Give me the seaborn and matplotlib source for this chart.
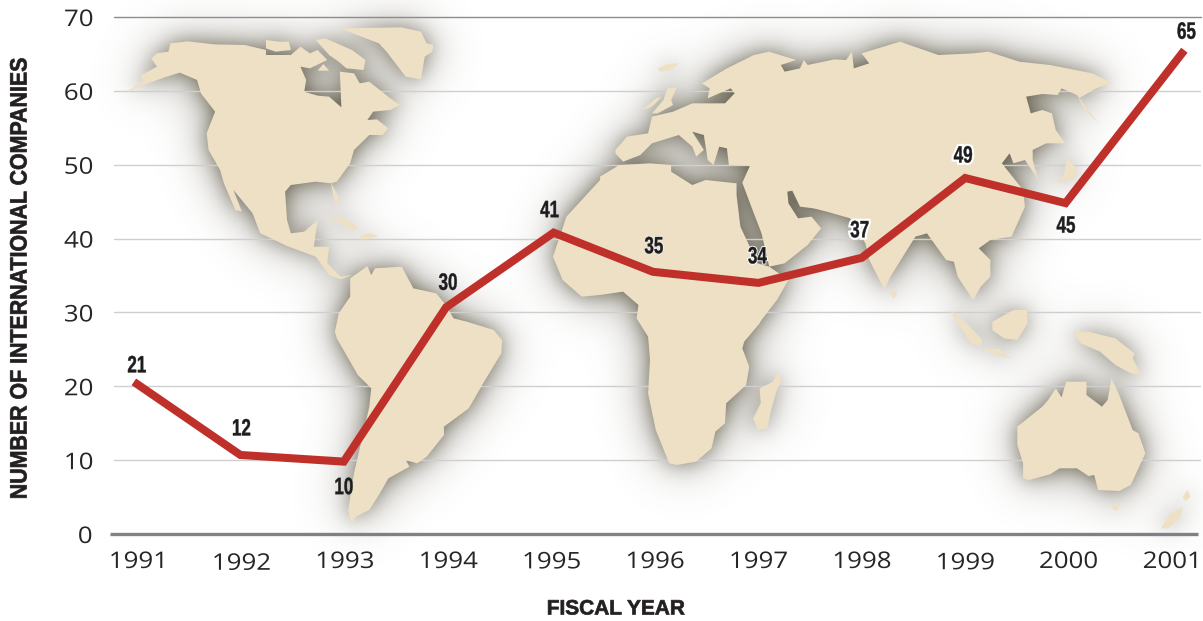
import numpy as np
import pandas as pd
import matplotlib
matplotlib.use("Agg")
import matplotlib.pyplot as plt
from matplotlib.path import Path
from matplotlib.patches import PathPatch
from matplotlib.patheffects import AbstractPathEffect
from matplotlib.transforms import Affine2D
import seaborn as sns

# ---- data ----
years = [1991, 1992, 1993, 1994, 1995, 1996, 1997, 1998, 1999, 2000, 2001]
line_x = [1990.96, 1991.99, 1992.99, 1993.98, 1995.02, 1995.98, 1997.0, 1998.0, 1999.0, 1999.97, 2001.12]
line_values = [20.6, 10.7, 9.8, 30.7, 40.8, 35.5, 34.0, 37.4, 48.2, 44.8, 65.5]
value_labels = ["21", "12", "10", "30", "41", "35", "34", "37", "49", "45", "65"]
y_ticks = [0, 10, 20, 30, 40, 50, 60, 70]

# ---- style ----
W, H = 1203, 621
AX_L, AX_R, AX_T, AX_B = 114, 1201, 17, 534
PX_X0, PX_PER_YEAR = 138, 103.4
LAND = "#ede0c5"
RED = "#c0302a"
SANS = ["Open Sans", "DejaVu Sans"]
HEAVY = ["Liberation Sans", "DejaVu Sans"]
label_offsets = [(3, 16), (1, 26), (0, -26), (2, 24), (-4, 22), (1, 25), (-1, 26), (-2, 27), (-2, 22), (0.5, -23), (2, 18)]
label_halos = [0, 0, 0, 0, 0, 1.0, 1.6, 3.4, 3.4, 0, 0]
tick_pads = [11.5, 12.8, 11.5, 11.5, 11.8, 11.5, 11.5, 11.5, 12.4, 11.5, 11.5]


class Reshape(AbstractPathEffect):
    """Stretch glyphs sideways about their own centre, with optional extra weight and halo."""

    def __init__(self, sx=1.0, stroke=0.0, halo=0.0, color="#1d1d1f"):
        super().__init__()
        self.sx, self.stroke, self.halo, self.color = sx, stroke, halo, color

    def draw_path(self, renderer, gc, tpath, affine, rgbFace=None):
        ext = tpath.get_extents()
        cx = 0.5 * (ext.x0 + ext.x1)
        tr = Affine2D().translate(-cx, 0).scale(self.sx, 1).translate(cx, 0) + affine
        if self.halo > 0:
            g = renderer.new_gc()
            g.copy_properties(gc)
            g.set_linewidth(self.halo)
            g.set_foreground("white")
            g.set_joinstyle("miter")
            renderer.draw_path(g, tpath, tr, (1, 1, 1, 1))
            g.restore()
        if self.stroke > 0:
            g = renderer.new_gc()
            g.copy_properties(gc)
            g.set_linewidth(self.stroke)
            g.set_foreground(self.color)
            renderer.draw_path(g, tpath, tr, rgbFace)
            g.restore()
        else:
            renderer.draw_path(gc, tpath, tr, rgbFace)


# ---- decorative map silhouette, traced in picture pixels ----
def z(pts, ox=0.0, oy=0.0, sx=2.613, sy=3.0):
    a = np.array(pts, float).reshape(-1, 2)
    return np.column_stack([ox + a[:, 0] / sx, oy + a[:, 1] / sy])


def z1(*p): return z(p)
def z2(*p): return z(p, 600, 0, 2.6)
def z3(*p): return z(p, 0, 310)
def z4(*p): return z(p, 600, 310, 2.6)


north_america = z1(330,278, 375,240, 365,228, 410,200, 395,175, 410,160, 440,155, 445,130, 490,124, 560,133, 640,135, 695,150,
                   695,165, 760,165, 785,140, 810,160, 830,150, 855,180, 810,205, 785,200, 800,240, 795,275, 830,287, 860,290,
                   892,322, 888,215, 925,220, 940,250, 965,245, 1020,295, 1045,315, 1020,330, 975,335, 960,360, 985,358, 1015,385,
                   1000,405, 965,405, 925,450, 915,490, 880,545, 865,550, 880,580, 890,612, 875,610, 865,550, 825,545, 760,555,
                   745,575, 750,660, 760,700, 795,695, 830,660, 820,740, 860,740, 855,790, 890,830, 920,825, 890,838, 860,825,
                   825,770, 750,738, 680,700, 660,640, 610,570, 632,635, 615,630, 585,550, 575,510, 545,450, 540,400, 562,335,
                   525,280, 515,240, 470,218, 430,232, 375,255)
south_america = np.vstack([
    z1(885,940, 915,890, 915,835, 960,798, 970,825, 980,805, 1050,800, 1080,865, 1140,880, 1165,915),
    z3(1185,25, 1220,35, 1290,60, 1312,90, 1310,130, 1265,215, 1225,295, 1160,350, 1160,375, 1115,440, 1090,460, 1060,450,
       1070,470, 1015,505, 990,555, 965,600, 930,620, 918,645, 910,600, 925,490, 965,290, 970,235, 935,195, 880,85, 875,65)])
africa = np.vstack([
    z2(0,530, 50,495, 130,490, 185,495, 185,515, 240,555, 275,540, 355,550, 355,585, 365,680, 410,790, 440,800, 490,840, 460,900, 420,960),
    z4(415,40, 375,95, 370,115, 388,170, 380,225, 328,280, 325,340, 300,365, 290,415, 250,455, 200,465, 180,460, 145,360, 125,250,
       130,150, 125,80, 95,25),
    z2(100,915, 60,875, 0,885),
    z1(1520,890, 1470,840, 1445,770, 1480,650, 1568,540)])
eurasia = z2(40,460, 60,485, 105,465, 135,430, 205,405, 240,440, 250,470, 270,450, 240,395, 270,405, 280,480, 295,495, 310,440,
             330,445, 335,495, 390,497, 370,548, 395,625, 420,700, 440,800, 480,790, 540,735, 575,685, 550,650, 515,655, 490,610,
             487,575, 500,572, 520,620, 555,625, 590,635, 650,655, 690,730, 700,780, 740,870, 755,830, 820,710, 850,700, 900,780,
             920,785, 930,830, 970,900, 990,860, 1015,830, 1015,780, 985,745, 1015,720, 1070,710, 1105,620, 1100,570, 1045,490,
             1065,460, 1075,490, 1105,480, 1140,540, 1125,480, 1125,450, 1160,430, 1210,430, 1185,390, 1175,340, 1150,330, 1120,340,
             1108,290, 1150,282, 1190,285, 1200,265, 1240,285, 1295,370, 1260,330, 1245,295, 1290,265, 1330,248, 1280,220, 1170,195,
             1090,185, 1010,155, 970,160, 880,165, 830,145, 780,125, 680,160, 700,190, 660,205, 655,155, 640,180, 610,178, 540,195,
             530,180, 520,205, 480,215, 470,195, 510,180, 440,155, 400,165, 330,205, 265,250, 285,265, 280,295, 340,265, 350,280,
             325,310, 240,310, 190,335, 135,350, 125,400, 70,410, 40,450)
land_shapes = [
    north_america, south_america, africa, eurasia,
    z1(825,120, 850,115, 920,150, 955,180, 950,210, 905,205, 885,185, 860,165),
    z1(695,120, 730,125, 755,125, 760,150, 720,155, 695,145),
    z1(830,212, 845,192, 860,212),
    z1(888,85, 1050,82, 1100,95, 1115,130, 1132,135, 1130,155, 1110,170, 1100,238, 1060,230, 1010,155, 990,130),
    z1(855,655, 890,650, 935,680, 920,695, 895,670),
    z1(945,705, 965,700, 990,708, 960,718, 940,718),
    z2(150,205, 175,192, 205,190, 185,210, 155,215),
    z2(110,328, 130,310, 145,295, 160,290, 140,315, 125,325),
    z2(135,340, 165,300, 175,265, 200,262, 185,300, 190,315, 150,340),
    z2(755,875, 765,865, 772,885, 762,897),
    z2(1185,545, 1205,530, 1215,470, 1240,510, 1235,535, 1190,548),
    z4(910,0, 945,30, 995,90, 990,110, 965,100, 930,40),
    z4(1020,35, 1075,0, 1110,0, 1112,40, 1085,90, 1050,85, 1020,60),
    z4(995,120, 1035,115, 1068,145, 1030,135),
    z4(1230,65, 1270,65, 1340,85, 1390,130, 1385,145, 1408,195, 1380,190, 1340,165, 1300,125, 1250,100),
    z4(415,235, 450,215, 462,185, 472,212, 460,240, 445,300, 435,355, 410,360, 398,325, 418,280),
    z4(1085,350, 1150,290, 1165,270, 1185,235, 1200,262, 1212,215, 1265,215, 1265,255, 1305,290, 1320,270, 1330,205, 1350,255,
       1385,360, 1400,370, 1418,430, 1380,525, 1350,543, 1295,540, 1285,495, 1270,498, 1240,475, 1195,475, 1170,493, 1115,510,
       1100,505, 1100,460, 1085,405),
    z4(1330,585, 1350,582, 1345,602, 1335,600),
    z4(1458,655, 1480,615, 1515,590, 1510,620, 1478,655),
    z4(1515,560, 1528,540, 1535,560, 1522,575),
]

# ---- figure ----
sns.set_theme(style="white")
plt.rcParams["font.family"] = SANS
fig = plt.figure(figsize=(W / 100, H / 100), dpi=100, facecolor="white")

bg = fig.add_axes([0, 0, 1, 1], zorder=0)
bg.set_xlim(0, W)
bg.set_ylim(H, 0)
bg.axis("off")

# soft drop shadow behind the land (computed on a padded canvas)
PAD = 100
gx, gy = np.meshgrid(np.arange(-PAD, W + PAD) + 0.5, np.arange(-PAD, H + PAD) + 0.5)
grid_pts = np.column_stack([gx.ravel(), gy.ravel()])
mask = np.zeros(gx.shape)
for shape in land_shapes:
    mask = np.maximum(mask, Path(shape).contains_points(grid_pts).reshape(gx.shape).astype(float))
fy = np.fft.fftfreq(gx.shape[0])[:, None]
fx = np.fft.rfftfreq(gx.shape[1])[None, :]
spec = np.fft.rfft2(mask)


def gaussian(sigma):
    return np.fft.irfft2(spec * np.exp(-2 * (np.pi * sigma) ** 2 * (fx ** 2 + fy ** 2)), s=gx.shape)


blur = 0.62 * gaussian(10.0) + 0.7 * gaussian(24.0)
rgba = np.zeros((H, W, 4))
rgba[..., :3] = np.array([118, 113, 98]) / 255
rgba[..., 3] = np.clip(blur[PAD:-PAD, PAD:-PAD], 0, 1)
bg.imshow(rgba, extent=(0, W, H, 0), aspect="auto", interpolation="bilinear", zorder=1)

ax = fig.add_axes([AX_L / W, (H - AX_B) / H, (AX_R - AX_L) / W, (AX_B - AX_T) / H], zorder=1)
ax.patch.set_visible(False)
ax.set_xlim(1991 + (AX_L - PX_X0) / PX_PER_YEAR, 1991 + (AX_R - PX_X0) / PX_PER_YEAR)
ax.set_ylim(0, 70)

for shape in land_shapes:
    ax.add_patch(PathPatch(Path(shape), facecolor=LAND, edgecolor="none", transform=bg.transData,
                           zorder=1.5, clip_on=False))

df = pd.DataFrame({"year": line_x, "companies": line_values})
sns.lineplot(data=df, x="year", y="companies", ax=ax, color=RED, linewidth=5.8, zorder=3,
             solid_joinstyle="miter", solid_capstyle="butt", legend=False)

for sp in ax.spines.values():
    sp.set_visible(False)
ax.set_yticks(y_ticks)
ax.set_xticks(years)
ax.set_xticklabels([str(y) for y in years])
ax.set_axisbelow(True)
ax.grid(False)
for v in y_ticks[1:-1]:
    ax.axhline(v, color="#cfcfcf", lw=1.0, zorder=0.5)
ax.axhline(70, color="#8c8c8c", lw=1.0, zorder=0.5, clip_on=False)
ax.plot([1991 + (110 - PX_X0) / PX_PER_YEAR, 1991 + (1198 - PX_X0) / PX_PER_YEAR], [0, 0], color="#808085", lw=2.4,
        clip_on=False, zorder=2, solid_capstyle="butt")

ax.tick_params(axis="both", length=0, labelsize=16.5, labelcolor="#262626")
ax.tick_params(axis="y", pad=16)
for tick, pad in zip(ax.xaxis.get_major_ticks(), tick_pads):
    tick.set_pad(pad)
for lab in ax.get_xticklabels() + ax.get_yticklabels():
    lab.set_path_effects([Reshape(sx=1.13)])

ax.set_xlabel("")
ax.set_ylabel("")
fig.text(616 / W, 1 - 609 / H, "FISCAL YEAR", family=HEAVY, fontweight="bold", fontsize=15, color="#231f20",
         ha="center", va="center", path_effects=[Reshape(sx=1.0, stroke=0.5, color="#231f20")])
fig.text(20 / W, 1 - 278 / H, "NUMBER OF INTERNATIONAL COMPANIES", family=HEAVY, fontweight="bold", fontsize=17,
         color="#231f20", ha="center", va="center", rotation=90,
         path_effects=[Reshape(sx=0.905, stroke=0.5, color="#231f20")])

for xv, v, txt, off, halo in zip(line_x, line_values, value_labels, label_offsets, label_halos):
    ax.annotate(txt, (xv, v), xytext=(off[0] * 0.72, off[1] * 0.72), textcoords="offset points", ha="center",
                va="center", family=HEAVY, fontweight="bold", fontsize=17, color="#1d1d1f", zorder=5,
                annotation_clip=False, path_effects=[Reshape(sx=0.72, stroke=0.3, halo=halo)])

fig.savefig("out.png", dpi=100, facecolor="white")
